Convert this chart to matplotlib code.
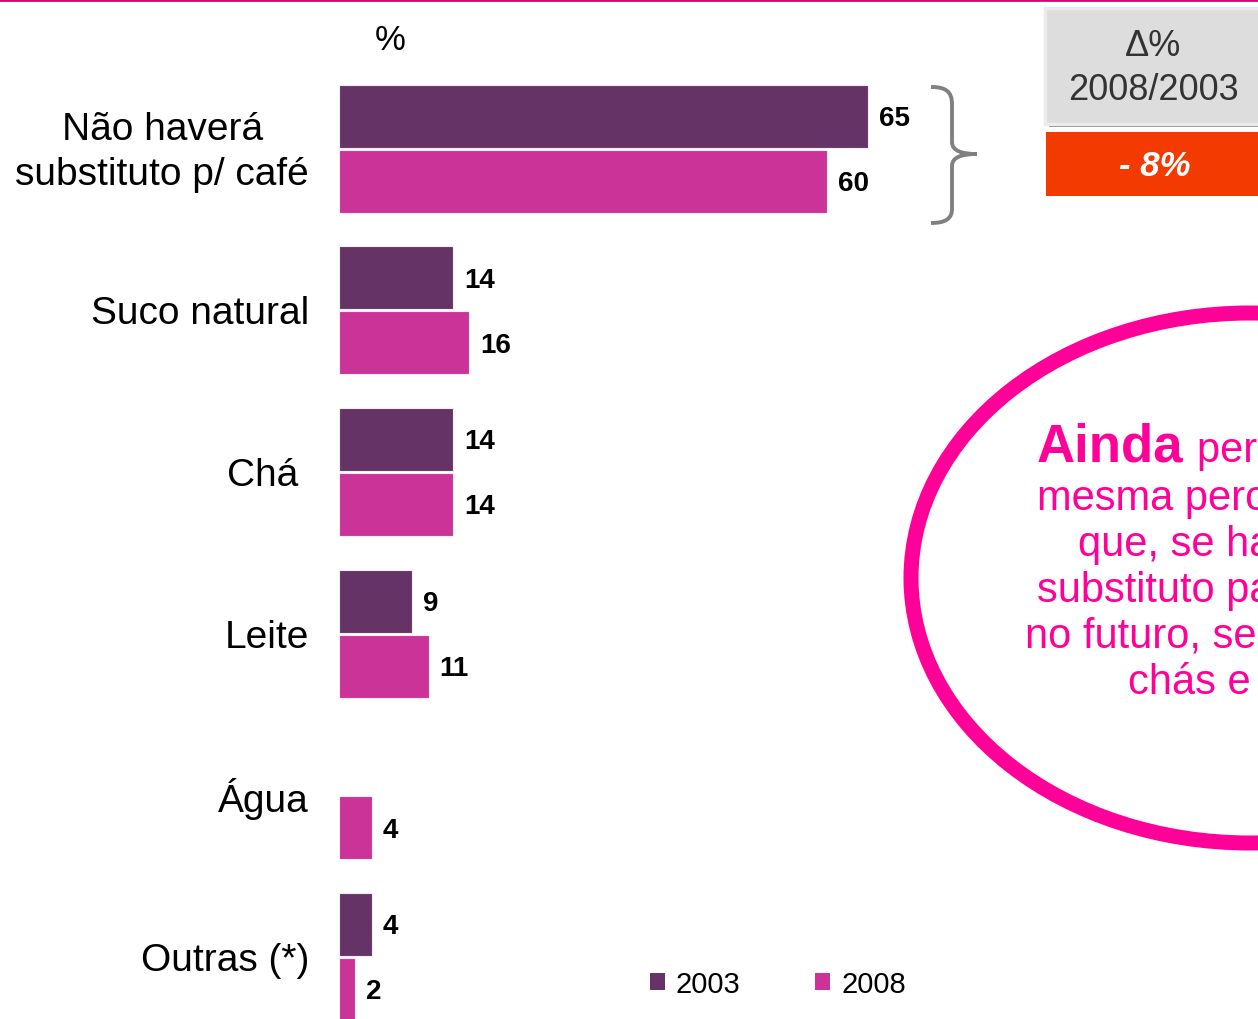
import matplotlib
matplotlib.use("Agg")
import numpy as np
import matplotlib.pyplot as plt
from matplotlib import transforms
from matplotlib.patches import Rectangle, Ellipse, PathPatch, Patch
from matplotlib.path import Path

plt.rcParams['font.family'] = ['Liberation Sans', 'DejaVu Sans']

# ---- data ----
categories = ["Não haverá\nsubstituto p/ café", "Suco natural", "Chá ", "Leite", "Água", "Outras (*)"]
values_2003 = [65, 14, 14, 9, np.nan, 4]
values_2008 = [60, 16, 14, 11, 4, 2]
series_labels = ["2003", "2008"]
delta_text = "- 8%"

color_2003 = "#663366"
color_2008 = "#cc3399"
magenta = "#ff0099"

W, H = 1258, 1020
fig = plt.figure(figsize=(W / 100, H / 100), dpi=100)
# pixel coordinates measured from the top-left corner of the figure
px = transforms.Affine2D().scale(1 / W, -1 / H).translate(0, 1) + fig.transFigure

# ---- bar axes ----
left_px = 339
scale = 8.14  # pixels per percentage point
ax = fig.add_axes([left_px / W, 0, 1 - left_px / W, 1])
ax.set_xlim(0, (W - left_px) / scale)
ax.set_ylim(H, 0)
ax.axis("off")

group_step = 161.7
first_center = 149.5
centers = first_center + group_step * np.arange(len(categories))
bar_h = 63
off = 32.5

ax.barh(centers - off, values_2003, height=bar_h, color=color_2003,
        edgecolor="#f4eef4", linewidth=0.8)
ax.barh(centers + off, values_2008, height=bar_h, color=color_2008,
        edgecolor="#f8eef4", linewidth=0.8)

for yc, v3, v8 in zip(centers, values_2003, values_2008):
    for y, v in ((yc - off, v3), (yc + off, v8)):
        if np.isnan(v):
            continue
        ax.annotate(f"{v:g}", xy=(v, y), xytext=(11, -2), textcoords="offset pixels",
                    ha="left", va="center", fontsize=20, fontweight="bold",
                    color="black")

for yc, cat in zip(centers, categories):
    ax.annotate(cat, xy=(0, yc), xytext=(-30, -3), textcoords="offset pixels",
                ha="right", va="center", fontsize=28, multialignment="center",
                linespacing=1.3, color="black")

fig.text(390, 41, "%", transform=px, ha="center", va="center", fontsize=25)

# ---- legend ----
handles = [Patch(facecolor=color_2003, edgecolor="none"),
           Patch(facecolor=color_2008, edgecolor="none")]
fig.legend(handles, series_labels, loc="center left",
           bbox_to_anchor=(638 / W, 1 - 985 / H), ncol=2, frameon=False,
           fontsize=21, handlelength=0.52, handleheight=0.52,
           handletextpad=0.38, columnspacing=2.55, borderaxespad=0)

# ---- top rule ----
fig.add_artist(plt.Line2D([0, W], [1, 1], transform=px, color="#e0007a", lw=2))

# ---- brace ----
brace = Path(
    [(931, 88), (945, 88), (952, 92), (952, 105),
     (952, 143),
     (952, 152), (962, 155), (977, 155),
     (962, 155), (952, 158), (952, 167),
     (952, 210),
     (952, 220), (945, 224), (931, 224)],
    [Path.MOVETO, Path.CURVE4, Path.CURVE4, Path.CURVE4,
     Path.LINETO,
     Path.CURVE4, Path.CURVE4, Path.CURVE4,
     Path.CURVE4, Path.CURVE4, Path.CURVE4,
     Path.LINETO,
     Path.CURVE4, Path.CURVE4, Path.CURVE4])
fig.add_artist(PathPatch(brace, transform=px, fill=False, edgecolor="#808080", lw=2.8))

# ---- delta box ----
fig.add_artist(Rectangle((1049, 13), 230, 115, transform=px, facecolor="#888888",
                         edgecolor="none"))
fig.add_artist(Rectangle((1045, 9), 230, 116, transform=px, facecolor="#dddddd",
                         edgecolor="#ebebeb", lw=2.5))
fig.text(1153, 46, "Δ%", transform=px, ha="center", va="center", fontsize=26,
         color="#333333")
fig.text(1153, 90, "2008/2003", transform=px, ha="center", va="center", fontsize=26,
         color="#333333")
fig.add_artist(Rectangle((1046, 133), 230, 64, transform=px, facecolor="#f33a00",
                         edgecolor="none"))
fig.text(1155, 166, delta_text, transform=px, ha="center", va="center", fontsize=25,
         color="white", fontweight="bold", fontstyle="italic")

# ---- callout ----
fig.add_artist(Ellipse((1250, 579), 2 * 339, 2 * 265, transform=px, fill=False,
                       edgecolor=magenta, lw=10.8))
fig.text(1037, 462, "Ainda", transform=px, ha="left", va="baseline", fontsize=38,
         fontweight="bold", color=magenta)
fig.text(1197, 462, "permanece a", transform=px, ha="left", va="baseline",
         fontsize=30, color=magenta)
callout_lines = [
    (1037, 510, "mesma percepção de"),
    (1078, 556, "que, se haverá um"),
    (1037, 602, "substituto para o café"),
    (1025, 648, "no futuro, serão sucos,"),
    (1128, 694, "chás e leite"),
]
for x, y, s in callout_lines:
    fig.text(x, y, s, transform=px, ha="left", va="baseline", fontsize=30,
             color=magenta)

fig.savefig("out.png", dpi=100)
